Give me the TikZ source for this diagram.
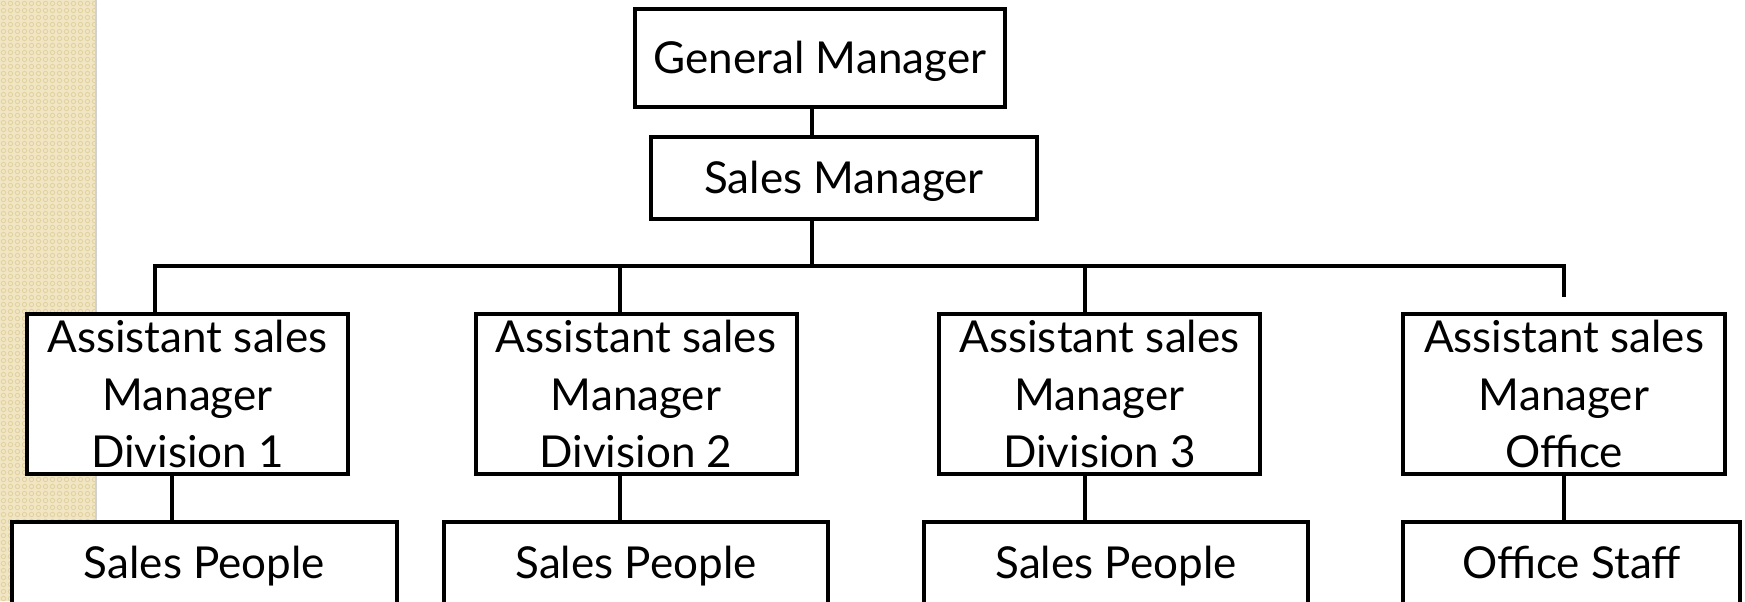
\documentclass[tikz,border=0pt]{standalone}
\usepackage{fontspec}
\setmainfont{Lato}
\begin{document}
\definecolor{stripbase}{RGB}{241,230,195}
\definecolor{stripdot}{RGB}{226,210,162}
\tikzset{
  orgbox/.style={draw=black, line width=2pt, fill=white, inner sep=0pt,
    font=\fontsize{22pt}{28.75pt}\selectfont},
  onebox/.style={orgbox, text height=15.8pt, text depth=0pt},
  threebox/.style={orgbox, align=center, minimum width=160.5pt, minimum height=80pt},
  link/.style={draw=black, line width=2pt},
}
\begin{tikzpicture}[x=0.5pt, y=-0.5pt]
  \useasboundingbox (0,0) rectangle (1745,601);
  \clip (0,0) rectangle (1745,601);
  \fill[white] (0,0) rectangle (1745,601);

  % textured side strip
  \fill[stripbase] (0,0) rectangle (95,601);
  \foreach \i in {0,...,13} {
    \foreach \j in {0,...,86} {
      \draw[stripdot, line width=0.45pt] (3.5+7*\i, 3.5+7*\j) circle (2.2);
    }
  }
  \draw[black!18, line width=1pt] (96,0) -- (96,601);

  % top of the chart
  \node[onebox, minimum width=185pt, minimum height=49pt] (gm) at (820,58) {General Manager};
  \node[onebox, minimum width=193pt, minimum height=41pt] (sm) at (844,178) {Sales Manager};

  % assistant managers
  \node[threebox] (a1) at (187.5,394) {Assistant sales\\Manager\\Division 1};
  \node[threebox] (a2) at (636,394) {Assistant sales\\Manager\\Division 2};
  \node[threebox] (a3) at (1099.5,394) {Assistant sales\\Manager\\Division 3};
  \node[threebox, minimum width=161pt] (a4) at (1564,394) {Assistant sales\\Manager\\Office};

  % staff boxes
  \node[onebox, minimum width=192.5pt, minimum height=41pt] (s1) at (204.5,563) {Sales People};
  \node[onebox, minimum width=192pt, minimum height=41pt] (s2) at (636,563) {Sales People};
  \node[onebox, minimum width=192pt, minimum height=41pt] (s3) at (1116,563) {Sales People};
  \node[onebox, minimum width=168.5pt, minimum height=41pt] (s4) at (1571.5,563) {Office Staff};

  % connector positions
  \coordinate (spine) at (812,266);
  \coordinate (d1) at (155,266);
  \coordinate (d2) at (620,266);
  \coordinate (d3) at (1085,266);
  \coordinate (d4) at (1564,266);
  \coordinate (d4end) at (1564,297);
  \coordinate (c1) at (172,500);
  \coordinate (c2) at (620,500);
  \coordinate (c3) at (1085,500);
  \coordinate (c4) at (1564,500);

  % connectors
  \draw[link] (gm.south -| spine) -- (sm.north -| spine);
  \draw[link] (sm.south -| spine) -- (spine);
  \draw[link] (a1.north -| d1) -- (d1) -- (d4) -- (d4end);
  \draw[link] (d2) -- (a2.north -| d2);
  \draw[link] (d3) -- (a3.north -| d3);
  \draw[link] (a1.south -| c1) -- (s1.north -| c1);
  \draw[link] (a2.south -| c2) -- (s2.north -| c2);
  \draw[link] (a3.south -| c3) -- (s3.north -| c3);
  \draw[link] (a4.south -| c4) -- (s4.north -| c4);
\end{tikzpicture}
\end{document}
